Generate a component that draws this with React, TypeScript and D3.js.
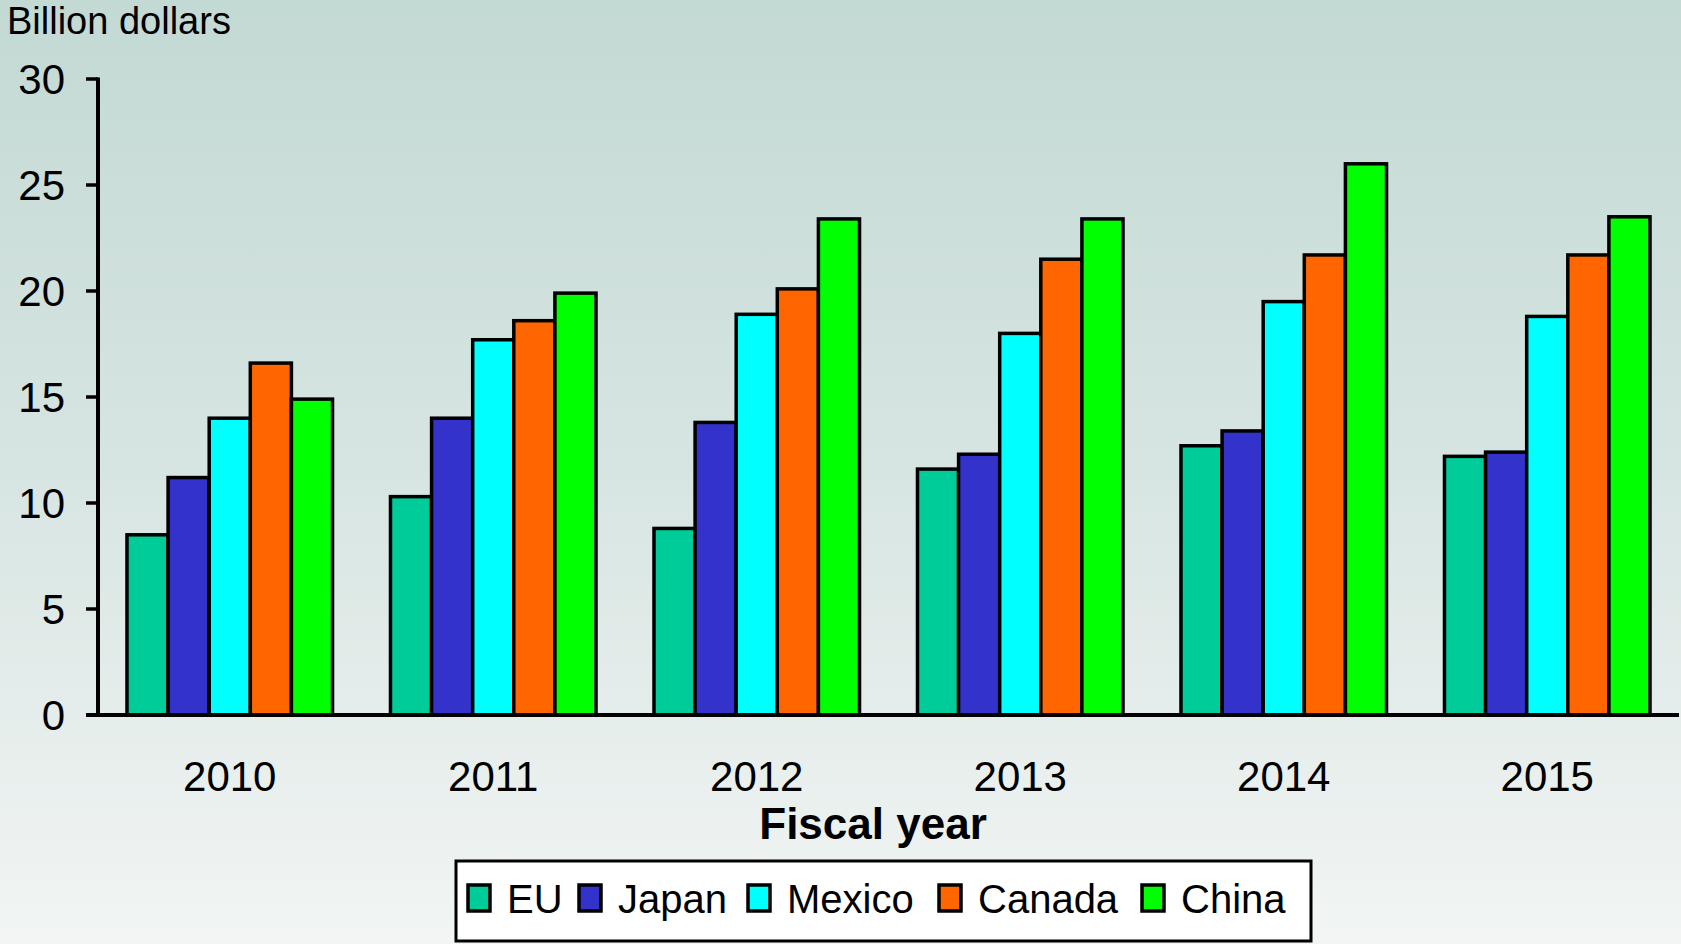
import React from "react";
import * as d3 from "d3";

const years = ["2010", "2011", "2012", "2013", "2014", "2015"];
const seriesNames = ["EU", "Japan", "Mexico", "Canada", "China"];
const seriesColors = ["#00cc99", "#3333cc", "#00ffff", "#ff6600", "#00ff00"];
const euValues = [8.5, 10.3, 8.8, 11.6, 12.7, 12.2];
const japanValues = [11.2, 14.0, 13.8, 12.3, 13.4, 12.4];
const mexicoValues = [14.0, 17.7, 18.9, 18.0, 19.5, 18.8];
const canadaValues = [16.6, 18.6, 20.1, 21.5, 21.7, 21.7];
const chinaValues = [14.9, 19.9, 23.4, 23.4, 26.0, 23.5];
const yTicks = [0, 5, 10, 15, 20, 25, 30];

const seriesValues = [euValues, japanValues, mexicoValues, canadaValues, chinaValues];

const W = 1681;
const H = 944;
const FONT = "'Liberation Sans', Arial, Helvetica, sans-serif";

export default function App() {
  const left = 98;
  const right = 1679;
  const top = 79;
  const bottom = 715;

  const x0 = d3.scaleBand<string>().domain(years).range([left, right]).padding(0);
  const bw = x0.bandwidth();
  const x1 = d3
    .scaleBand<string>()
    .domain(seriesNames)
    .range([bw * 0.11, bw * 0.89])
    .padding(0);
  const y = d3.scaleLinear().domain([0, 30]).range([bottom, top]);

  const legendX = [468, 579, 748, 939, 1142];

  return (
    <svg
      width={W}
      height={H}
      style={{ position: "fixed", left: 0, top: 0, display: "block" }}
      fontFamily={FONT}
    >
      <defs>
        <linearGradient id="bg" x1="0" y1="0" x2="0" y2="1">
          <stop offset="0%" stopColor="#c3d9d4" />
          <stop offset="50%" stopColor="#d7e5e2" />
          <stop offset="100%" stopColor="#f2f5f4" />
        </linearGradient>
      </defs>
      <rect x={0} y={0} width={W} height={H} fill="url(#bg)" />

      <text x={7} y={34} fontSize={38} fill="#000">
        Billion dollars
      </text>

      {/* bars */}
      {years.map((yr, i) => (
        <g key={yr} transform={`translate(${x0(yr)},0)`}>
          {seriesNames.map((s, j) => {
            const v = seriesValues[j][i];
            return (
              <rect
                key={s}
                x={x1(s)}
                y={y(v)}
                width={x1.bandwidth()}
                height={y(0) - y(v)}
                fill={seriesColors[j]}
                stroke="#000"
                strokeWidth={3.5}
              />
            );
          })}
        </g>
      ))}

      {/* y axis */}
      <line x1={left} x2={left} y1={y(30) - 1.5} y2={y(0)} stroke="#000" strokeWidth={4} />
      {yTicks.map((t) => (
        <g key={t}>
          <line x1={86} x2={left} y1={y(t)} y2={y(t)} stroke="#000" strokeWidth={3.5} />
          <text
            x={65}
            y={y(t)}
            dy="0.36em"
            textAnchor="end"
            fontSize={42}
            fill="#000"
          >
            {t}
          </text>
        </g>
      ))}

      {/* x axis */}
      <line x1={86} x2={right} y1={y(0)} y2={y(0)} stroke="#000" strokeWidth={4} />
      {years.map((yr) => (
        <text
          key={yr}
          x={(x0(yr) as number) + bw / 2}
          y={791}
          textAnchor="middle"
          fontSize={42}
          fill="#000"
        >
          {yr}
        </text>
      ))}
      <text x={873} y={839} textAnchor="middle" fontSize={44} fontWeight="bold" fill="#000">
        Fiscal year
      </text>

      {/* legend */}
      <rect x={456} y={861} width={855} height={80} fill="#fff" stroke="#000" strokeWidth={3} />
      {seriesNames.map((s, j) => (
        <g key={s}>
          <rect
            x={legendX[j]}
            y={885}
            width={22}
            height={26}
            fill={seriesColors[j]}
            stroke="#000"
            strokeWidth={3.5}
          />
          <text x={legendX[j] + 39} y={913} fontSize={40} fill="#000">
            {s}
          </text>
        </g>
      ))}
    </svg>
  );
}
